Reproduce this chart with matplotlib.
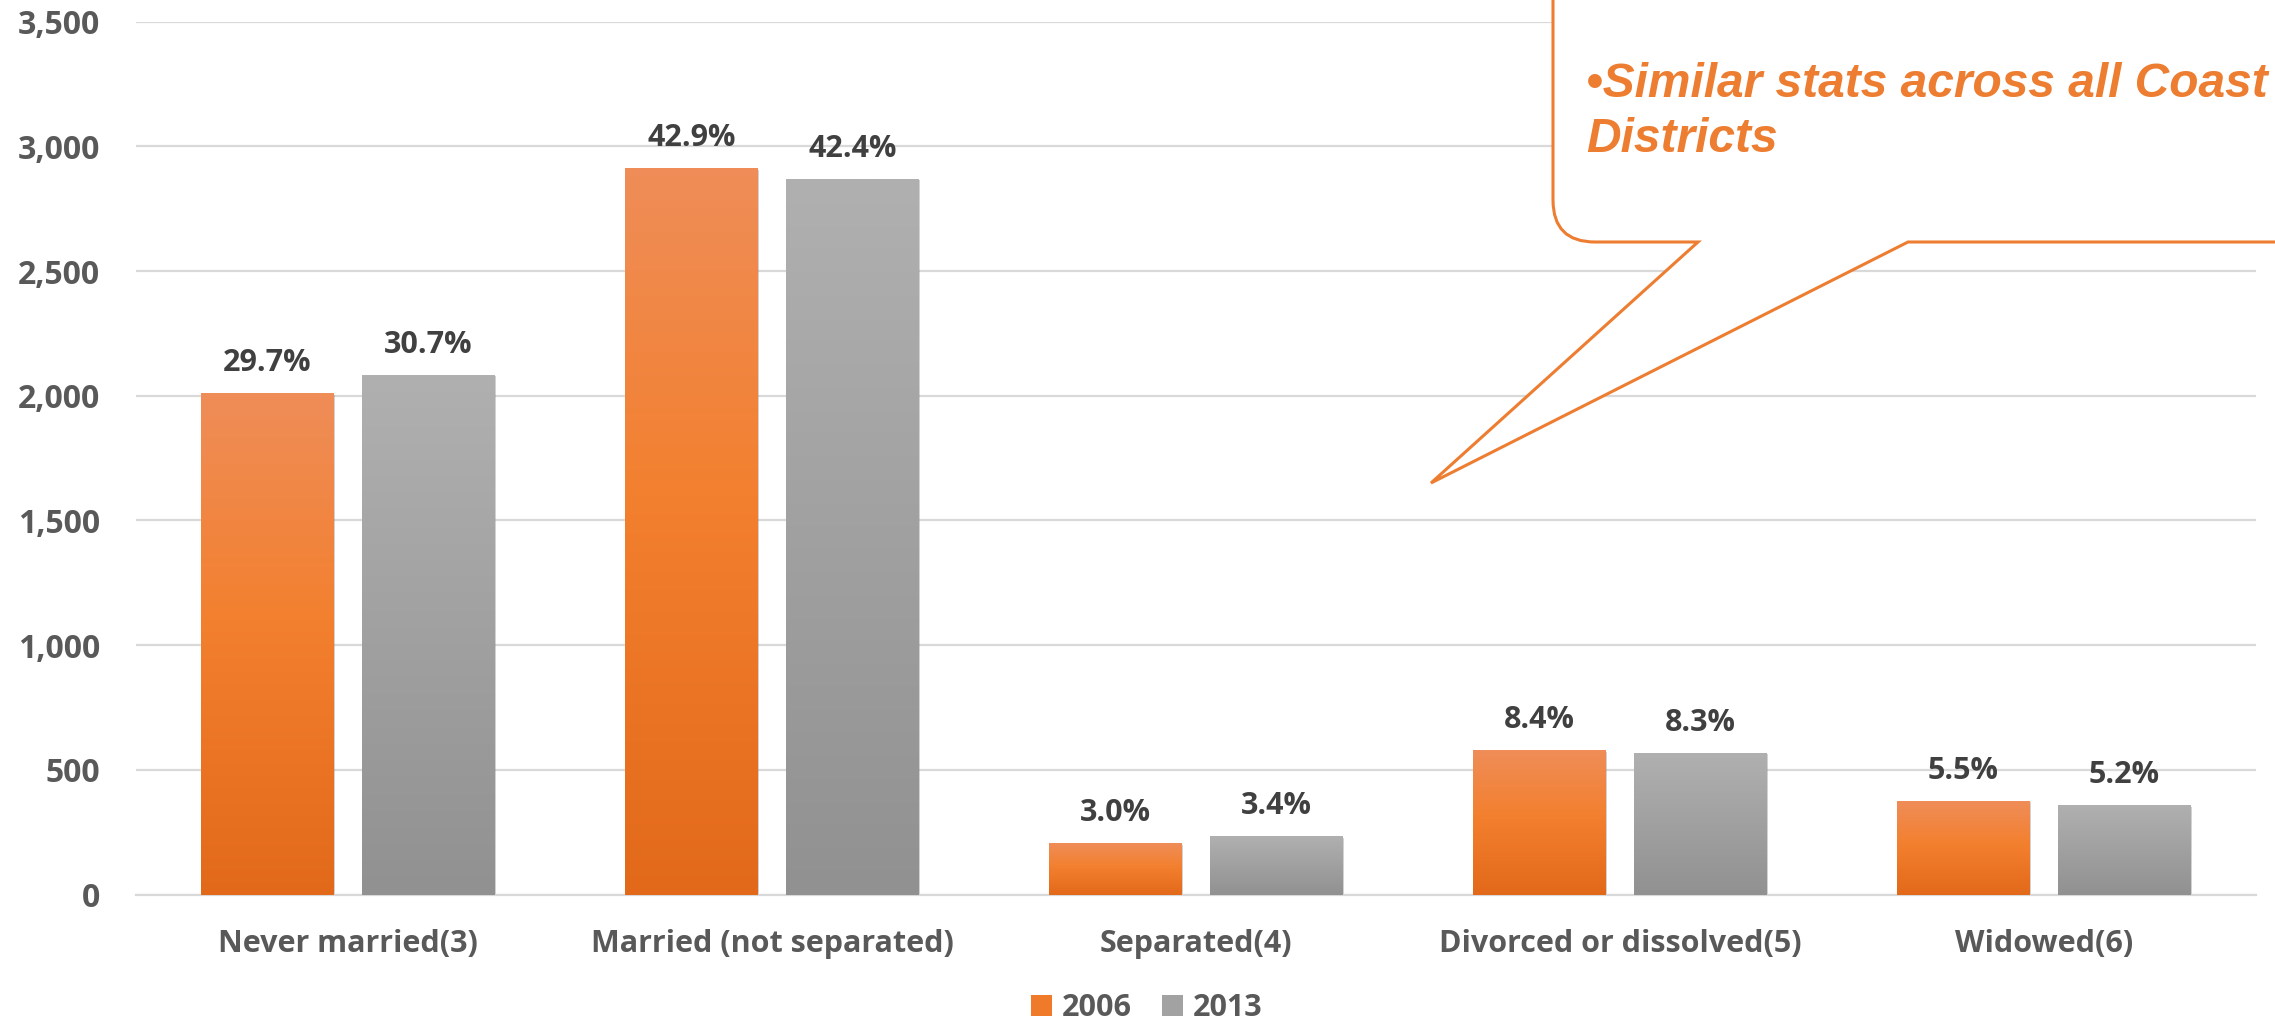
import numpy as np
import matplotlib
matplotlib.use('Agg')
import matplotlib.pyplot as plt
import matplotlib.patheffects as pe
from matplotlib.colors import LinearSegmentedColormap
from matplotlib.patches import PathPatch, Patch
from matplotlib.path import Path

categories = ["Never married(3)", "Married (not separated)", "Separated(4)",
              "Divorced or dissolved(5)", "Widowed(6)"]
counts_2006 = [2010, 2912, 205, 579, 375]
counts_2013 = [2083, 2871, 234, 567, 358]
pct_2006 = ["29.7%", "42.9%", "3.0%", "8.4%", "5.5%"]
pct_2013 = ["30.7%", "42.4%", "3.4%", "8.3%", "5.2%"]
series_names = ["2006", "2013"]
y_ticks = [0, 500, 1000, 1500, 2000, 2500, 3000, 3500]
callout_text = "\u2022Similar stats across all Coast\nDistricts"

plt.rcParams['font.family'] = ['Open Sans', 'DejaVu Sans']

orange_cmap = LinearSegmentedColormap.from_list(
    "org", [(0, "#E2691A"), (0.55, "#F3802F"), (1, "#EF8D58")])
gray_cmap = LinearSegmentedColormap.from_list(
    "gry", [(0, "#919191"), (1, "#B0B0B0")])

fig = plt.figure(figsize=(22.75, 10.26), dpi=100)
ax = fig.add_axes([136/2275, 1 - 894.5/1026, 2120/2275, (894.5 - 21.7)/1026])

x = np.arange(len(categories))
w = 0.312
off = 0.19


def grad_bars(xpos, vals, cmap, base):
    bars = ax.bar(xpos, vals, w, color=base, zorder=2)
    g = np.linspace(1, 0, 256).reshape(-1, 1)
    for b in bars:
        b.set_path_effects([pe.SimplePatchShadow(offset=(1, -1), shadow_rgbFace='#808080',
                                                 alpha=0.35), pe.Normal()])
        x0 = b.get_x()
        im = ax.imshow(g, extent=(x0, x0 + b.get_width(), 0, b.get_height()),
                       aspect='auto', cmap=cmap, vmin=0, vmax=1, zorder=3)
        im.set_clip_path(b)
    return bars


grad_bars(x - off, counts_2006, orange_cmap, "#F07D2E")
grad_bars(x + off, counts_2013, gray_cmap, "#A0A0A0")

for i in range(len(categories)):
    ax.annotate(pct_2006[i], (x[i] - off, counts_2006[i]), xytext=(0, 22),
                textcoords='offset pixels', ha='center', va='baseline',
                fontsize=22, fontweight='bold', color='#404040')
    ax.annotate(pct_2013[i], (x[i] + off, counts_2013[i]), xytext=(0, 22),
                textcoords='offset pixels', ha='center', va='baseline',
                fontsize=22, fontweight='bold', color='#404040')

ax.set_xlim(-0.5, len(categories) - 0.5)
ax.set_ylim(0, 3500)
ax.set_yticks(y_ticks)
ax.set_yticklabels([f"{v:,}" for v in y_ticks])
ax.set_xticks(x)
ax.set_xticklabels(categories)
ax.tick_params(axis='y', length=0, pad=26, labelsize=23, labelcolor='#595959')
ax.tick_params(axis='x', length=0, pad=25, labelsize=22, labelcolor='#595959')
for lab in ax.get_xticklabels() + ax.get_yticklabels():
    lab.set_fontweight('bold')
ax.yaxis.grid(True, color='#D9D9D9', linewidth=1.6, zorder=0)
ax.set_axisbelow(True)
for s in ['top', 'right', 'left']:
    ax.spines[s].set_visible(False)
ax.spines['bottom'].set_color('#D9D9D9')
ax.spines['bottom'].set_linewidth(1.6)

handles = [Patch(facecolor="#EE7A2A"), Patch(facecolor="#A2A2A2")]
leg = fig.legend(handles, series_names, loc='center', ncol=2,
                 bbox_to_anchor=(0.504, 1 - 1008/1026), frameon=False,
                 prop={'size': 22, 'weight': 'bold'},
                 handlelength=0.7, handleheight=0.7, handletextpad=0.3,
                 columnspacing=1.0)
for t in leg.get_texts():
    t.set_color('#595959')

# callout bubble in pixel coordinates
ov = fig.add_axes([0, 0, 1, 1])
ov.set_xlim(0, 2275)
ov.set_ylim(1026, 0)
ov.axis('off')
ov.patch.set_alpha(0)
r = 42
verts = [
    (1908, 242), (2300, 242), (2300, -80), (1553 + r, -80),
    (1553, -80), (1553, -80 + r),
    (1553, 242 - r),
    (1553, 242), (1553 + r, 242),
    (1698, 242), (1431, 483), (1908, 242),
]
codes = [Path.MOVETO, Path.LINETO, Path.LINETO, Path.LINETO,
         Path.CURVE3, Path.CURVE3,
         Path.LINETO,
         Path.CURVE3, Path.CURVE3,
         Path.LINETO, Path.LINETO, Path.CLOSEPOLY]
ov.add_patch(PathPatch(Path(verts, codes), facecolor='white',
                       edgecolor='#ED7D31', linewidth=2.2, zorder=5))
ov.text(1586, 62, callout_text, ha='left', va='top', fontsize=34.5,
        fontweight='bold', fontstyle='italic', color='#ED7D31',
        family=['Liberation Sans', 'DejaVu Sans'], linespacing=1.3, zorder=6)

fig.savefig("out.png", dpi=100, facecolor='white')
